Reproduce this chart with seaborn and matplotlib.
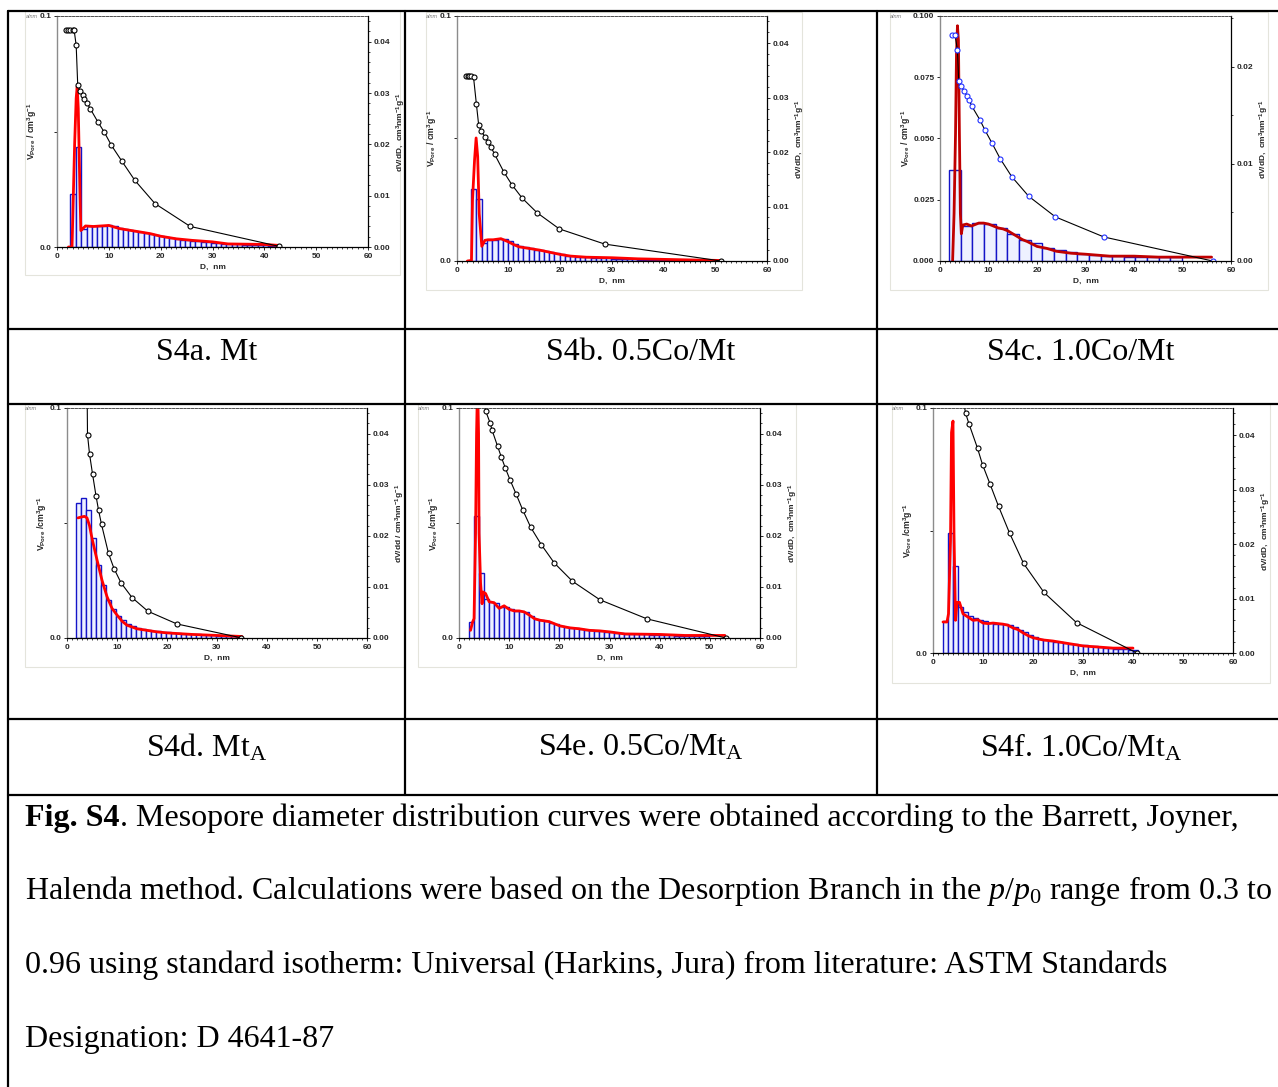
import numpy as np
import matplotlib
matplotlib.use("Agg")
import matplotlib.pyplot as plt
from matplotlib.ticker import MultipleLocator, FormatStrFormatter
from matplotlib.patches import Rectangle
import seaborn as sns

# =====================================================
# DATA
# =====================================================
# --- S4a. Mt ---
a_cum_d = [1.8, 2.2, 2.6, 3.0, 3.3, 3.7, 4.0, 4.5, 4.95, 5.3, 5.8, 6.4, 7.9, 9.1, 10.5, 12.5, 15.0, 18.9, 25.7, 42.8]
a_cum_v = [0.094, 0.094, 0.094, 0.094, 0.094, 0.0873, 0.070, 0.0675, 0.066, 0.064, 0.0623, 0.0599, 0.0541,
           0.0498, 0.044, 0.0372, 0.0289, 0.0188, 0.0089, 0.0003]
a_edges = [2.6, 3.6, 4.7, 5.7, 6.7, 7.7, 8.7, 9.7, 10.7, 11.7, 12.7, 13.7, 14.7, 15.7, 16.7, 17.7, 18.7, 19.7,
           20.7, 21.7, 22.7, 23.7, 24.7, 25.7, 26.7, 27.7, 28.7, 29.7, 30.7, 31.7, 32.7, 33.7, 34.7, 35.7, 36.7,
           37.7, 38.7, 39.7, 40.7, 41.7, 42.7]
a_bars = [0.0104, 0.0194, 0.0035, 0.0040, 0.0041, 0.0041, 0.0041, 0.0042, 0.0040, 0.0037, 0.0035, 0.0033,
          0.0031, 0.0030, 0.0028, 0.0026, 0.0023, 0.0021, 0.0019, 0.0017, 0.0016, 0.0014, 0.0013, 0.0012,
          0.0011, 0.0010, 0.0009, 0.0008, 0.0007, 0.0006, 0.0006, 0.0005, 0.0005, 0.0004, 0.0004, 0.0003,
          0.0003, 0.0003, 0.0002, 0.0002]
a_red_d = [2.2, 2.9, 3.1, 3.4, 3.7, 3.9, 4.1, 4.4, 4.6, 5.0, 5.5, 7.0, 8.5, 10.0, 12.0, 15.0, 18.0, 20.0, 23.0,
           26.0, 30.0, 33.0, 40.0, 43.0]
a_red_v = [0.0, 0.0, 0.0080, 0.0200, 0.0290, 0.0313, 0.0270, 0.0120, 0.0032, 0.0036, 0.0041, 0.0040, 0.0041,
           0.0042, 0.0036, 0.0031, 0.0026, 0.0021, 0.0016, 0.0013, 0.0010, 0.0006, 0.0005, 0.0003]

# --- S4b. 0.5Co/Mt ---
b_cum_d = [1.8, 2.1, 2.4, 2.7, 3.2, 3.75, 4.2, 4.7, 5.4, 6.0, 6.6, 7.3, 9.1, 10.6, 12.6, 15.5, 19.8, 28.6, 51.1]
b_cum_v = [0.0755, 0.0755, 0.0755, 0.0755, 0.0750, 0.0641, 0.0554, 0.0531, 0.0506, 0.0486, 0.0464, 0.0435,
           0.0362, 0.0312, 0.0257, 0.0197, 0.0131, 0.0069, 0.0]
b_edges = [2.8, 3.75, 4.85, 5.85, 6.85, 7.85, 8.85, 9.85, 10.85, 11.85, 12.85, 13.85, 14.85, 15.85, 16.85,
           17.85, 18.85, 19.85, 20.85, 21.85, 22.85, 23.85, 24.85, 25.85, 26.85, 27.85, 28.85, 29.85, 30.85,
           31.85, 32.85, 33.85, 34.85, 35.85, 36.85, 37.85, 38.85, 39.85, 40.85, 41.85, 42.85, 43.85, 44.85]
b_bars = [0.0133, 0.0113, 0.0033, 0.0038, 0.0039, 0.0040, 0.0040, 0.0036, 0.0031, 0.0028, 0.0025, 0.0023,
          0.0021, 0.0020, 0.0018, 0.0016, 0.0014, 0.0012, 0.0010, 0.0009, 0.0008, 0.0007, 0.0007, 0.0006,
          0.0006, 0.0005, 0.0005, 0.0004, 0.0004, 0.0003, 0.0003, 0.0003, 0.0002, 0.0002, 0.0002, 0.0002,
          0.0001, 0.0001, 0.0001, 0.0001, 0.0001, 0.0001]
b_red_d = [2.0, 2.8, 3.0, 3.4, 3.7, 4.0, 4.3, 4.8, 5.4, 6.0, 7.0, 8.5, 10.0, 11.0, 12.0, 14.0, 16.0, 18.0,
           20.0, 22.0, 25.0, 30.0, 35.0, 45.0, 51.0]
b_red_v = [0.0, 0.0001, 0.0112, 0.0186, 0.0226, 0.0192, 0.0087, 0.0027, 0.0038, 0.0039, 0.0039, 0.0041,
           0.0035, 0.0030, 0.0026, 0.0023, 0.0020, 0.0016, 0.0012, 0.0009, 0.0007, 0.0006, 0.0004, 0.0002, 0.0001]

# --- S4c. 1.0Co/Mt ---
c_cum_d = [2.5, 3.1, 3.6, 3.85, 4.3, 5.0, 5.5, 6.0, 6.5, 8.2, 9.3, 10.7, 12.4, 14.8, 18.3, 23.8, 33.8, 56.2]
c_cum_v = [0.0922, 0.0922, 0.0860, 0.0735, 0.0714, 0.0693, 0.0675, 0.0659, 0.0634, 0.0577, 0.0533, 0.0482,
           0.0418, 0.0344, 0.0264, 0.0180, 0.0098, 0.0]
c_edges = [1.85, 4.3, 6.7, 9.1, 11.5, 13.9, 16.3, 18.7, 21.1, 23.5, 25.9, 28.3, 30.7, 33.1, 35.5, 37.9,
           40.3, 42.7, 45.1, 47.5, 49.9]
c_bars = [0.0094, 0.0036, 0.0039, 0.0038, 0.0034, 0.0028, 0.0022, 0.0018, 0.0013, 0.0011, 0.0009, 0.00075,
          0.00065, 0.00055, 0.0005, 0.00045, 0.0004, 0.0004, 0.0004, 0.0004]
c_red_d = [2.6, 2.9, 3.2, 3.4, 3.6, 3.8, 4.0, 4.2, 4.4, 4.7, 5.5, 6.5, 8.0, 9.0, 10.0, 11.0, 12.0, 13.0, 14.0,
           15.0, 16.0, 17.0, 18.0, 20.0, 22.0, 24.0, 27.0, 30.0, 35.0, 40.0, 45.0, 50.0, 56.0]
c_red_v = [0.0, 0.0049, 0.0131, 0.0213, 0.0242, 0.0227, 0.0131, 0.0049, 0.0028, 0.0037, 0.0038, 0.0036,
           0.0039, 0.0039, 0.0038, 0.0036, 0.0034, 0.0033, 0.0031, 0.0028, 0.0025, 0.0022, 0.0020, 0.0015,
           0.0013, 0.0010, 0.0008, 0.0007, 0.0005, 0.0005, 0.0004, 0.0004, 0.0004]

# --- S4d. MtA ---
d_cum_d = [3.95, 4.1, 4.5, 5.1, 5.8, 6.3, 6.9, 8.3, 9.4, 10.8, 13.0, 16.2, 22.0, 34.8]
d_cum_v = [0.125, 0.0884, 0.0801, 0.0714, 0.0618, 0.0557, 0.0494, 0.0368, 0.0302, 0.0240, 0.0176, 0.0116,
           0.0061, 0.0001]
d_edges = [1.8, 2.7, 3.7, 4.7, 5.7, 6.7, 7.7, 8.7, 9.7, 10.7, 11.7, 12.7, 13.7, 14.7, 15.7, 16.7, 17.7, 18.7,
           19.7, 20.7, 21.7, 22.7, 23.7, 24.7, 25.7, 26.7, 27.7, 28.7, 29.7, 30.7, 31.7, 32.7, 33.7, 34.7]
d_bars = [0.0264, 0.0273, 0.0251, 0.0195, 0.0142, 0.0104, 0.0075, 0.0056, 0.0044, 0.0035, 0.0028, 0.0023,
          0.0020, 0.0018, 0.0016, 0.0014, 0.0013, 0.0012, 0.0011, 0.0010, 0.0009, 0.0008, 0.0008, 0.0007,
          0.0007, 0.0006, 0.0006, 0.0005, 0.0004, 0.0004, 0.0003, 0.0003, 0.0002]
d_red_d = [2.2, 3.0, 3.5, 4.0, 4.5, 5.0, 6.0, 7.0, 8.0, 9.0, 10.0, 11.0, 12.0, 14.0, 16.0, 18.0, 20.0, 25.0,
           30.0, 35.0]
d_red_v = [0.0235, 0.0237, 0.0238, 0.0235, 0.0220, 0.0195, 0.0153, 0.0113, 0.0081, 0.0058, 0.0045, 0.0033,
           0.0025, 0.0018, 0.0015, 0.0012, 0.0010, 0.0007, 0.0005, 0.0003]

# --- S4e. 0.5Co/MtA ---
e_cum_d = [4.8, 5.3, 6.2, 6.6, 7.7, 8.4, 9.2, 10.2, 11.4, 12.7, 14.3, 16.4, 19.0, 22.6, 28.1, 37.5, 53.2]
e_cum_v = [0.108, 0.0988, 0.0935, 0.0903, 0.0833, 0.0789, 0.0741, 0.0686, 0.0625, 0.0557, 0.0481, 0.0406,
           0.0326, 0.0247, 0.0166, 0.0083, 0.0]
e_edges = [1.9, 2.9, 3.9, 4.9, 5.9, 6.9, 7.9, 8.9, 9.9, 10.9, 11.9, 12.9, 13.9, 14.9, 15.9, 16.9, 17.9, 18.9,
           19.9, 20.9, 21.9, 22.9, 23.9, 24.9, 25.9, 26.9, 27.9, 28.9, 29.9, 30.9, 31.9, 32.9, 33.9, 34.9, 35.9,
           36.9, 37.9, 38.9, 39.9, 40.9, 41.9, 42.9, 43.9, 44.9, 45.9, 46.9, 47.9, 48.9, 49.9]
e_bars = [0.0031, 0.0239, 0.0128, 0.0077, 0.0071, 0.0068, 0.0060, 0.0061, 0.0056, 0.0053, 0.0053, 0.0050,
          0.0044, 0.0037, 0.0035, 0.0033, 0.0030, 0.0027, 0.0024, 0.0021, 0.0020, 0.0019, 0.0018, 0.0016,
          0.0015, 0.0014, 0.0013, 0.0012, 0.0011, 0.0010, 0.0009, 0.0008, 0.0008, 0.0007, 0.0007, 0.0007,
          0.0006, 0.0006, 0.0005, 0.0005, 0.0005, 0.0004, 0.0004, 0.0004, 0.0004, 0.0003, 0.0003, 0.0003]
e_red_d = [2.3, 2.7, 3.0, 3.3, 3.5, 3.7, 3.9, 4.0, 4.3, 4.6, 4.8, 5.3, 6.0, 7.0, 8.0, 9.0, 10.0, 11.0, 12.0,
           13.0, 14.0, 15.0, 16.0, 18.0, 19.0, 20.0, 22.0, 24.0, 26.0, 28.0, 30.0, 33.0, 40.0, 45.0, 53.0]
e_red_v = [0.0015, 0.0031, 0.0038, 0.0205, 0.040, 0.050, 0.040, 0.0205, 0.0107, 0.0067, 0.0090, 0.0087,
           0.0071, 0.0069, 0.0058, 0.0063, 0.0056, 0.0053, 0.0053, 0.0051, 0.0045, 0.0038, 0.0035, 0.0032,
           0.0028, 0.0024, 0.0020, 0.0018, 0.0015, 0.0014, 0.0012, 0.0008, 0.0007, 0.0005, 0.0005]

# --- S4f. 1.0Co/MtA ---
f_cum_d = [6.0, 6.5, 7.2, 8.9, 9.9, 11.4, 13.1, 15.3, 18.1, 22.2, 28.7, 40.8]
f_cum_v = [0.104, 0.098, 0.0935, 0.0836, 0.0769, 0.0690, 0.0599, 0.0490, 0.0366, 0.0247, 0.0124, 0.0]
f_edges = [2.0, 3.0, 4.0, 5.0, 6.0, 7.0, 8.0, 9.0, 10.0, 11.0, 12.0, 13.0, 14.0, 15.0, 16.0, 17.0, 18.0, 19.0,
           20.0, 21.0, 22.0, 23.0, 24.0, 25.0, 26.0, 27.0, 28.0, 29.0, 30.0, 31.0, 32.0, 33.0, 34.0, 35.0, 36.0,
           37.0, 38.0, 39.0, 40.0, 41.0]
f_bars = [0.0058, 0.0220, 0.0159, 0.0085, 0.0076, 0.0068, 0.0064, 0.0061, 0.0058, 0.0055, 0.0054, 0.0054,
          0.0054, 0.0052, 0.0048, 0.0043, 0.0038, 0.0033, 0.0029, 0.0026, 0.0024, 0.0022, 0.0021, 0.0020,
          0.0019, 0.0017, 0.0016, 0.0015, 0.0014, 0.0013, 0.0012, 0.0011, 0.0010, 0.0009, 0.0008, 0.0008,
          0.0007, 0.0006, 0.0005]
f_red_d = [2.0, 2.8, 3.1, 3.5, 3.7, 4.0, 4.2, 4.5, 4.8, 5.3, 6.0, 7.0, 8.0, 9.0, 10.0, 11.0, 12.0, 13.0, 14.0,
           15.0, 16.0, 17.0, 18.0, 19.0, 20.0, 22.0, 24.0, 26.0, 28.0, 30.0, 33.0, 36.0, 40.0]
f_red_v = [0.0057, 0.0057, 0.0072, 0.0206, 0.0405, 0.0426, 0.0219, 0.0060, 0.0093, 0.0093, 0.0072, 0.0066,
           0.0060, 0.0061, 0.0055, 0.0054, 0.0055, 0.0054, 0.0053, 0.0051, 0.0046, 0.0043, 0.0037, 0.0032,
           0.0028, 0.0024, 0.0022, 0.0019, 0.0016, 0.0013, 0.0011, 0.0009, 0.0009]

panel_captions = ["S4a. Mt", "S4b. 0.5Co/Mt", "S4c. 1.0Co/Mt",
                  r"S4d. Mt$_{\mathrm{A}}$", r"S4e. 0.5Co/Mt$_{\mathrm{A}}$", r"S4f. 1.0Co/Mt$_{\mathrm{A}}$"]

caption_head = "Fig. S4"
caption_lines = [
    ". Mesopore diameter distribution curves were obtained according to the Barrett, Joyner,",
    r"Halenda method. Calculations were based on the Desorption Branch in the $p$/$p_{\mathrm{0}}$ range from 0.3 to",
    "0.96 using standard isotherm: Universal (Harkins, Jura) from literature: ASTM Standards",
    "Designation: D 4641-87",
]

# =====================================================
# STYLE
# =====================================================
sns.set_theme(style="ticks")
plt.rcParams.update({
    "font.family": ["Liberation Sans", "DejaVu Sans"],
    "mathtext.fontset": "custom",
    "mathtext.rm": "Liberation Serif",
    "mathtext.it": "Liberation Serif:italic",
    "mathtext.bf": "Liberation Serif:bold",
    "mathtext.sf": "Liberation Sans:bold",
    "axes.facecolor": "white",
})

W, H = 1278, 1087
fig = plt.figure(figsize=(W / 100, H / 100), dpi=100)

# pixel-coordinate canvas for the table grid and captions
bg = fig.add_axes([0, 0, 1, 1], zorder=-10)
bg.set_xlim(0, W)
bg.set_ylim(H, 0)
bg.axis("off")


def px_box(x0, y0, x1, y1):
    return [x0 / W, 1 - y1 / H, (x1 - x0) / W, (y1 - y0) / H]


left_lab = r"V$_{\mathsf{Pore}}$ / cm$^{\mathsf{3}}$g$^{\mathsf{-1}}$"
left_lab2 = r"V$_{\mathsf{Pore}}$ /cm$^{\mathsf{3}}$g$^{\mathsf{-1}}$"
right_lab = r"dV/dD,  cm$^{\mathsf{3}}$nm$^{\mathsf{-1}}$g$^{\mathsf{-1}}$"
right_lab_d = r"dV/dd / cm$^{\mathsf{3}}$nm$^{\mathsf{-1}}$g$^{\mathsf{-1}}$"

panels = [
    dict(box=(57, 16, 368, 247), frame=(25, 11, 400, 275), anm=(26, 16),
         cum=(a_cum_d, a_cum_v), edges=a_edges, bars=a_bars, red=(a_red_d, a_red_v),
         llab=left_lab, rlab=right_lab, rtop=0.045, rminor=0.002, big=False,
         mcol="black", rcol="#ff0000"),
    dict(box=(457, 16, 767, 261), frame=(426, 12, 802, 290), anm=(426, 16),
         cum=(b_cum_d, b_cum_v), edges=b_edges, bars=b_bars, red=(b_red_d, b_red_v),
         llab=left_lab, rlab=right_lab, rtop=0.045, rminor=0.002, big=False,
         mcol="black", rcol="#ff0000"),
    dict(box=(940, 16, 1231, 261), frame=(890, 12, 1268, 290), anm=(890, 16),
         cum=(c_cum_d, c_cum_v), edges=c_edges, bars=c_bars, red=(c_red_d, c_red_v),
         llab=left_lab, rlab=right_lab, rtop=0.0252, rminor=0.005, big=True,
         mcol="#1f2fff", rcol="#c00000"),
    dict(box=(67, 408, 367, 638), frame=(25, 404, 405, 667), anm=(25, 408),
         cum=(d_cum_d, d_cum_v), edges=d_edges, bars=d_bars, red=(d_red_d, d_red_v),
         llab=left_lab2, rlab=right_lab_d, rtop=0.045, rminor=0.002, big=False,
         mcol="black", rcol="#ff0000"),
    dict(box=(459, 408, 760, 638), frame=(418, 404, 796, 667), anm=(418, 408),
         cum=(e_cum_d, e_cum_v), edges=e_edges, bars=e_bars, red=(e_red_d, e_red_v),
         llab=left_lab2, rlab=right_lab, rtop=0.045, rminor=0.002, big=False,
         mcol="black", rcol="#ff0000"),
    dict(box=(933, 408, 1233, 653), frame=(892, 404, 1270, 683), anm=(892, 408),
         cum=(f_cum_d, f_cum_v), edges=f_edges, bars=f_bars, red=(f_red_d, f_red_v),
         llab=left_lab2, rlab=right_lab, rtop=0.045, rminor=0.002, big=False,
         mcol="black", rcol="#ff0000"),
]

fs = 6
for p in panels:
    fx0, fy0, fx1, fy1 = p["frame"]
    bg.add_patch(Rectangle((fx0, fy0), fx1 - fx0, fy1 - fy0, fill=False,
                           edgecolor="#e4e4dc", linewidth=0.8))
    bg.text(p["anm"][0], p["anm"][1], "a/nm", fontsize=4, color="#777777",
            fontstyle="italic", ha="left", va="center")

    ax = fig.add_axes(px_box(*p["box"]))
    ax2 = ax.twinx()

    edges = np.array(p["edges"])
    ax2.bar(edges[:-1], p["bars"], width=np.diff(edges), align="edge",
            facecolor="#eef1ff", edgecolor="#1414c8", linewidth=1.0, zorder=2)
    sns.lineplot(x=p["red"][0], y=p["red"][1], ax=ax2, color=p["rcol"], linewidth=2.0,
                 sort=False, estimator=None, zorder=3)
    sns.lineplot(x=p["cum"][0], y=p["cum"][1], ax=ax, color="black", linewidth=0.8,
                 marker="o", markersize=3.6, markerfacecolor="white",
                 markeredgecolor=p["mcol"], markeredgewidth=0.8,
                 sort=False, estimator=None)
    ax.set_zorder(ax2.get_zorder() + 1)
    ax.patch.set_visible(False)

    ax.set_xlim(0, 60)
    ax.set_ylim(0, 0.1)
    ax2.set_ylim(0, p["rtop"])
    ax.set_xticks(range(0, 61, 10))
    ax.xaxis.set_minor_locator(MultipleLocator(1))
    if p["big"]:
        ax.set_yticks([0, 0.025, 0.05, 0.075, 0.1])
        ax.set_yticklabels(["0.000", "0.025", "0.050", "0.075", "0.100"])
    else:
        ax.set_yticks([0, 0.05, 0.1])
        ax.set_yticklabels(["0.0", "", "0.1"])
    ax2.yaxis.set_major_locator(MultipleLocator(0.01))
    ax2.yaxis.set_minor_locator(MultipleLocator(p["rminor"]))
    ax2.yaxis.set_major_formatter(FormatStrFormatter("%.2f"))

    for a in (ax, ax2):
        a.tick_params(which="major", length=2.5, width=0.7, labelsize=fs, pad=1.5, direction="out")
        a.tick_params(which="minor", length=1.6, width=0.6, direction="out")
    for lbl in ax.get_xticklabels() + ax.get_yticklabels() + ax2.get_yticklabels():
        lbl.set_fontweight("bold")
    ax.set_xlabel("D,  nm", fontsize=fs, fontweight="bold", labelpad=3)
    ax.set_ylabel(p["llab"], fontsize=fs + 0.3, fontweight="bold", labelpad=1)
    ax2.set_ylabel(p["rlab"], fontsize=fs, fontweight="bold", labelpad=3)

    ax.spines["right"].set_visible(False)
    ax.spines["left"].set_color("#8c8c8c")
    ax.spines["left"].set_linewidth(1.0)
    ax.spines["bottom"].set_color("black")
    ax.spines["bottom"].set_linewidth(0.9)
    ax.spines["top"].set_color("#333333")
    ax.spines["top"].set_linewidth(0.6)
    ax.spines["top"].set_linestyle((0, (3, 1.5)))
    for s in ("left", "bottom", "top"):
        ax2.spines[s].set_visible(False)
    ax2.spines["right"].set_color("black")
    ax2.spines["right"].set_linewidth(0.9)

# =====================================================
# TABLE GRID
# =====================================================
lw = 1.6
bg.plot([8, W], [11, 11], color="black", lw=lw)
bg.plot([8, 8], [11, H], color="black", lw=lw)
for yy in (329, 404, 719, 795):
    bg.plot([8, W], [yy, yy], color="black", lw=lw)
for xx in (405, 877):
    bg.plot([xx, xx], [11, 795], color="black", lw=lw)

cap_x = [207, 641, 1081, 207, 641, 1081]
cap_y = [353, 353, 353, 748, 748, 748]
for txt, cx, cy in zip(panel_captions, cap_x, cap_y):
    bg.text(cx, cy, txt, fontsize=23, fontfamily="Liberation Serif",
            ha="center", va="center", color="black")

# caption: bold "Fig. S4" followed by the regular text
base_y = 826
head = bg.text(25, base_y, caption_head, fontsize=23, fontfamily="Liberation Serif",
               fontweight="bold", ha="left", va="baseline", color="black")
bg.annotate(caption_lines[0], xy=(1, 0), xycoords=head, fontsize=23,
            fontfamily="Liberation Serif", ha="left", va="bottom", color="black")
for i, line in enumerate(caption_lines[1:], start=1):
    bg.text(25, base_y + i * 73.5, line, fontsize=23, fontfamily="Liberation Serif",
            ha="left", va="baseline", color="black")

plt.savefig("out.png", dpi=100, facecolor="white")
plt.close()
